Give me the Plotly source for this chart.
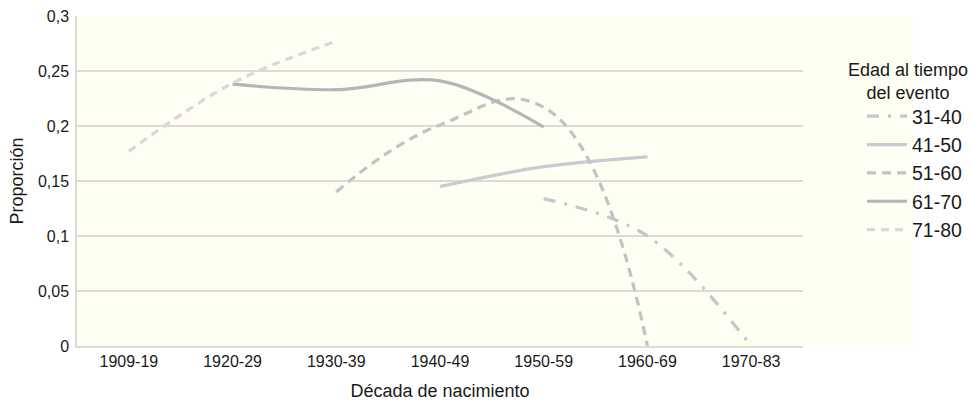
import plotly.graph_objects as go

categories = ["1909-19", "1920-29", "1930-39", "1940-49", "1950-59", "1960-69", "1970-83"]
series_names = ["31-40", "41-50", "51-60", "61-70", "71-80"]
s31_40 = [None, None, None, None, 0.134, 0.100, 0.0]
s41_50 = [None, None, None, 0.145, 0.163, 0.172, None]
s51_60 = [None, None, 0.140, 0.201, 0.217, 0.0, None]
s61_70 = [None, 0.238, 0.233, 0.241, 0.199, None, None]
s71_80 = [0.177, 0.239, 0.277, None, None, None, None]
y_tickvals = [0, 0.05, 0.1, 0.15, 0.2, 0.25, 0.3]
y_ticktext = ["0", "0,05", "0,1", "0,15", "0,2", "0,25", "0,3"]
legend_title = "Edad al tiempo<br>del evento"

values = [s31_40, s41_50, s51_60, s61_70, s71_80]
colors = ["#c6c6cb", "#cacad2", "#c2c2c7", "#b5b5b9", "#d9d6de"]
dashes = ["12px,9px,3px,9px", "solid", "9px,6px", "solid", "8px,6px"]
smooth = [1.0, 1.0, 1.3, 1.0, 1.0]

FONT = "Liberation Sans, Arial, sans-serif"
L, R, T, B = 77, 170, 16, 55
W, H = 973, 401
PW = W - L - R
PH = H - T - B

fig = go.Figure()
for name, vals, col, dsh, sm in zip(series_names, values, colors, dashes, smooth):
    fig.add_trace(go.Scatter(
        x=categories, y=vals, name=name, mode="lines",
        line=dict(color=col, width=3.2, dash=dsh, shape="spline", smoothing=sm),
        connectgaps=False,
    ))

fig.add_shape(type="rect", xref="paper", yref="paper", x0=0, x1=(913 - L) / PW,
              y0=0, y1=1, fillcolor="#fefef2", line_width=0, layer="below")

fig.add_annotation(text=legend_title, xref="paper", yref="paper",
                   x=(908 - L) / PW, y=(H - B - 81.5) / PH, xanchor="center", yanchor="middle",
                   showarrow=False, align="center", font=dict(size=18, color="#1a1a1a"))

fig.update_layout(
    width=W, height=H,
    margin=dict(l=L, r=R, t=T, b=B, autoexpand=False),
    paper_bgcolor="white", plot_bgcolor="#fefef2",
    font=dict(family=FONT, size=16, color="#1a1a1a"),
    showlegend=True,
    legend=dict(
        font=dict(size=19.5), bgcolor="rgba(0,0,0,0)",
        xref="container", yref="container",
        x=862 / W, xanchor="left", y=1 - 97 / H, yanchor="top",
        itemwidth=40,
    ),
    xaxis=dict(
        categoryorder="array", categoryarray=categories, range=[-0.5, 6.5],
        automargin=False,
        showgrid=False, showline=True, linecolor="#dedcd2", linewidth=1.5,
        ticks="", tickfont=dict(size=16),
        title=dict(text="Década de nacimiento", font=dict(size=18), standoff=16),
    ),
    yaxis=dict(
        range=[0, 0.3], tickvals=y_tickvals, ticktext=y_ticktext,
        automargin=False,
        showgrid=True, gridcolor="#dedcd2", gridwidth=1.5,
        zeroline=True, zerolinecolor="#dedcd2", zerolinewidth=1.5,
        showline=True, linecolor="#dedcd2", linewidth=1.5,
        ticks="", ticklabelstandoff=3, tickfont=dict(size=16),
        title=dict(text="Proporción", font=dict(size=18), standoff=10),
    ),
)

fig.write_html("out.html", config={"displayModeBar": False},
               post_script="document.body.style.margin='0';")
